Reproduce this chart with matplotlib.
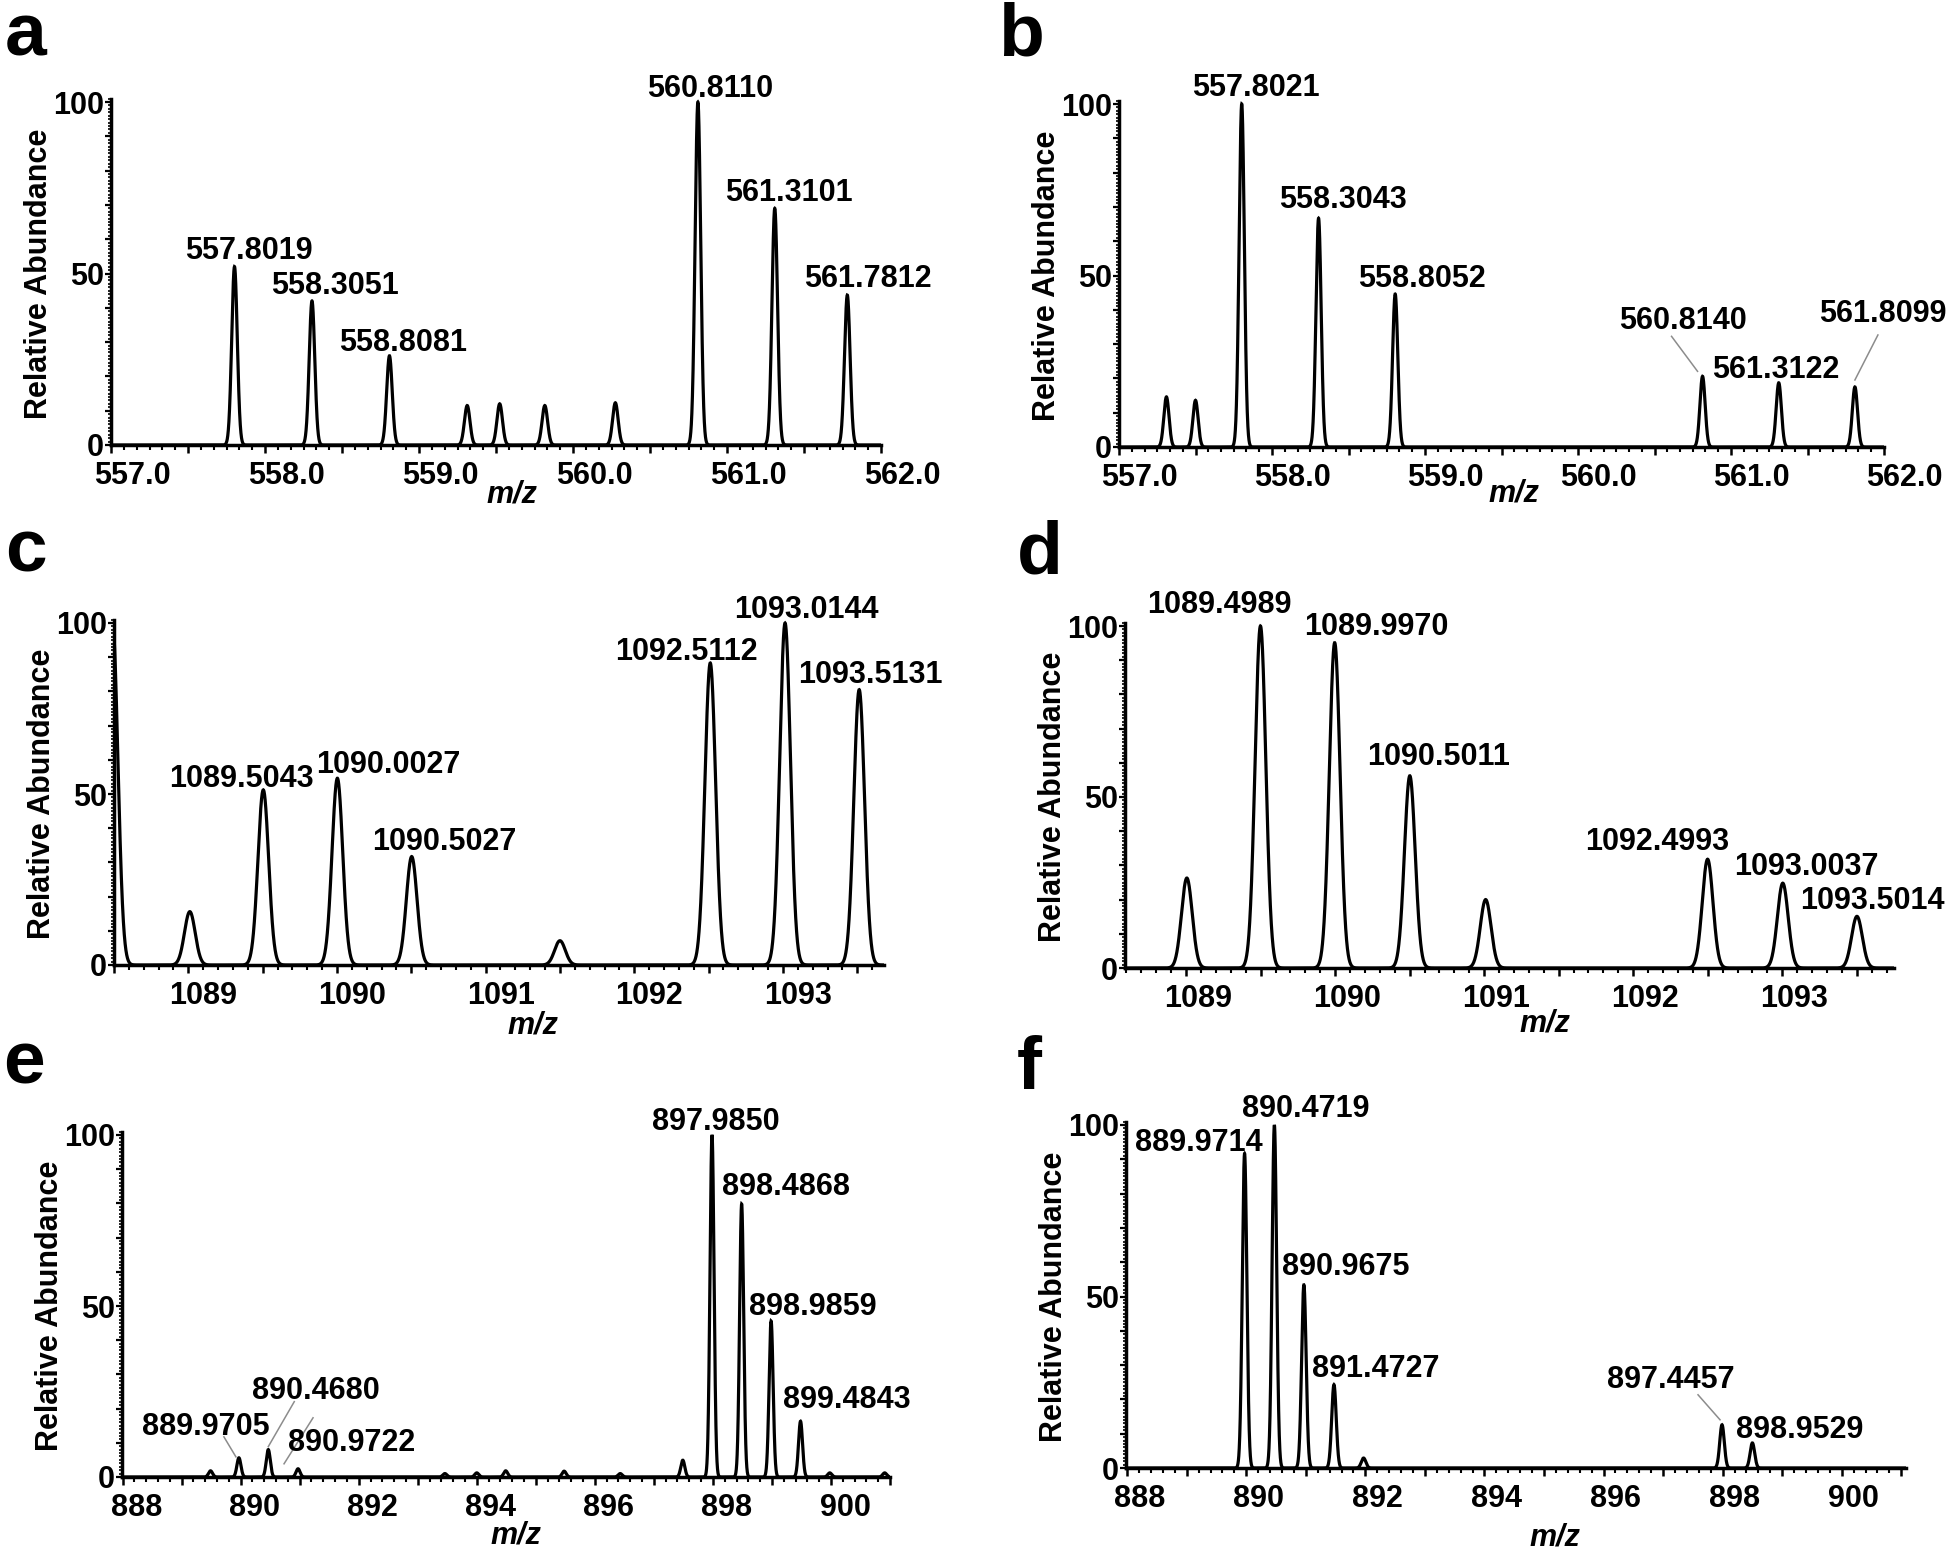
import numpy as np
import matplotlib
matplotlib.use('Agg')
import matplotlib.pyplot as plt
from matplotlib.ticker import MultipleLocator, FuncFormatter
from matplotlib.transforms import ScaledTranslation

plt.rcParams['font.family'] = ['Liberation Sans', 'DejaVu Sans']
plt.rcParams['font.weight'] = 'bold'

# ---------------- data ----------------
a_mz = [557.8019, 558.3051, 558.8081, 559.313, 559.524, 559.817, 560.275, 560.8110, 561.3101, 561.7812]
a_int = [52, 42, 26, 11.5, 12, 11.5, 12.3, 100, 69, 43.7]
a_lab_idx = [0, 1, 2, 7, 8, 9]
a_lab_txt = ['557.8019', '558.3051', '558.8081', '560.8110', '561.3101', '561.7812']

b_mz = [557.31, 557.50, 557.8021, 558.3043, 558.8052, 560.8140, 561.3122, 561.8099]
b_int = [14.6, 13.6, 100, 66.7, 44.6, 20.6, 18.7, 17.5]
b_lab_idx = [2, 3, 4, 5, 6, 7]
b_lab_txt = ['557.8021', '558.3043', '558.8052', '560.8140', '561.3122', '561.8099']

c_mz = [1088.49, 1089.01, 1089.5043, 1090.0027, 1090.5027, 1091.50, 1092.5112, 1093.0144, 1093.5131]
c_int = [100, 15.6, 51.2, 54.6, 31.7, 7.1, 88.3, 100, 80.5]
c_lab_idx = [2, 3, 4, 6, 7, 8]
c_lab_txt = ['1089.5043', '1090.0027', '1090.5027', '1092.5112', '1093.0144', '1093.5131']

d_mz = [1089.005, 1089.4989, 1089.9970, 1090.5011, 1091.01, 1092.4993, 1093.0037, 1093.5014]
d_int = [26.3, 100, 95.1, 56.2, 20, 31.8, 24.8, 15.1]
d_lab_idx = [1, 2, 3, 5, 6, 7]
d_lab_txt = ['1089.4989', '1089.9970', '1090.5011', '1092.4993', '1093.0037', '1093.5014']

e_mz = [889.49, 889.9705, 890.4680, 890.9722, 893.46, 894.00, 894.49, 895.48, 896.43, 897.49,
        897.9850, 898.4868, 898.9859, 899.4843, 899.98, 900.91]
e_int = [1.8, 5.6, 8.0, 2.4, 1.0, 1.2, 1.8, 1.7, 1.0, 4.9, 100, 79.8, 45.6, 16.3, 1.2, 1.2]
e_lab_idx = [1, 2, 3, 10, 11, 12, 13]
e_lab_txt = ['889.9705', '890.4680', '890.9722', '897.9850', '898.4868', '898.9859', '899.4843']

f_mz = [889.9714, 890.4719, 890.9675, 891.4727, 891.97, 897.99, 898.50]
f_int = [91.7, 100, 53.4, 24.3, 2.9, 12.6, 7.3]
f_lab_idx = [0, 1, 2, 3, 5, 6]
f_lab_txt = ['889.9714', '890.4719', '890.9675', '891.4727', '897.4457', '898.9529']

# ---------------- layout / style ----------------
W, H = 1950, 1554
FS = 22

panels = [
    dict(letter='a', mz=a_mz, it=a_int, li=a_lab_idx, lt=a_lab_txt,
         rect=(111, 881, 102, 445), xlim=(557.0, 562.0), xmaj=0.5, xlab=1.0, xmin=1 / 12,
         fmt='{:.1f}', toff=21, sigma=0.018, lpos=(5, 56), mzpos=(512, 495),
         loff=[(14, 8), (23, 7), (14, 5), (12, 5), (14, 7), (21, 8)], leaders=[]),
    dict(letter='b', mz=b_mz, it=b_int, li=b_lab_idx, lt=b_lab_txt,
         rect=(1119, 1884, 104, 447), xlim=(557.0, 562.0), xmaj=0.5, xlab=1.0, xmin=1 / 12,
         fmt='{:.1f}', toff=20, sigma=0.017, lpos=(998, 56), mzpos=(1514, 493),
         loff=[(14, 8), (24, 10), (27, 7), (-20, 47), (-3, 5), (28, 65)],
         leaders=[(5, (-31, 40), (-5, 5)), (7, (23, 52), (0, 7))]),
    dict(letter='c', mz=c_mz, it=c_int, li=c_lab_idx, lt=c_lab_txt,
         rect=(114, 884, 623, 965), xlim=(1088.50, 1093.68), xmaj=0.5, xlab=1.0, xmin=0.1,
         fmt='{:.0f}', toff=15, sigma=0.036, lpos=(5, 571), mzpos=(533, 1025),
         loff=[(-22, 3), (51, 5), (33, 7), (-24, 3), (21, 5), (11, 7)], leaders=[]),
    dict(letter='d', mz=d_mz, it=d_int, li=d_lab_idx, lt=d_lab_txt,
         rect=(1125, 1894, 626, 968), xlim=(1088.59, 1093.75), xmaj=0.5, xlab=1.0, xmin=0.1,
         fmt='{:.0f}', toff=12, sigma=0.036, lpos=(1017, 573), mzpos=(1545, 1024),
         loff=[(-41, 13), (42, 8), (29, 11), (-50, 9), (24, 8), (15, 7)], leaders=[]),
    dict(letter='e', mz=e_mz, it=e_int, li=e_lab_idx, lt=e_lab_txt,
         rect=(122, 890, 1135, 1477), xlim=(887.99, 901.0), xmaj=1.0, xlab=2.0, xmin=0.2,
         fmt='{:.0f}', toff=14, sigma=0.034, lpos=(3, 1083), mzpos=(516, 1535),
         loff=[(-33, 23), (48, 51), (54, 18), (4, 5), (44, 9), (42, 6), (46, 13)],
         leaders=[(1, (-15, 21), (-3, 1)), (2, (26, 48), (0, 3)), (3, (15, 51), (-14, 5))]),
    dict(letter='f', mz=f_mz, it=f_int, li=f_lab_idx, lt=f_lab_txt,
         rect=(1126, 1906, 1125, 1468), xlim=(887.98, 901.08), xmaj=1.0, xlab=2.0, xmin=0.2,
         fmt='{:.0f}', toff=12, sigma=0.038, lpos=(1017, 1089), mzpos=(1555, 1538),
         loff=[(-46, 2), (31, 8), (42, 10), (42, 8), (-51, 37), (47, 5)],
         leaders=[(5, (-24, 30), (-2, 5))]),
]

YTOP = 101.0

fig = plt.figure(figsize=(W / 100, H / 100), dpi=100)

for p in panels:
    l, r, t100, b0 = p['rect']
    hpx = (b0 - t100) * YTOP / 100.0
    ax = fig.add_axes([l / W, (H - b0) / H, (r - l) / W, hpx / H])
    x0, x1 = p['xlim']
    x = np.linspace(x0, x1, 40000)
    y = np.zeros_like(x)
    for m, h in zip(p['mz'], p['it']):
        y += h * np.exp(-0.5 * ((x - m) / p['sigma']) ** 2)
    ax.plot(x, y, color='black', lw=2.3, solid_joinstyle='miter')
    ax.set_xlim(x0, x1)
    ax.set_ylim(0, YTOP)

    for s in ['top', 'right']:
        ax.spines[s].set_visible(False)
    for s in ['left', 'bottom']:
        ax.spines[s].set_linewidth(2.5)
        ax.spines[s].set_color('black')

    xlab = p['xlab']
    fmt = p['fmt']

    def xf(v, pos, xlab=xlab, fmt=fmt):
        k = v / xlab
        return fmt.format(v) if abs(k - round(k)) < 1e-6 else ''

    ax.xaxis.set_major_locator(MultipleLocator(p['xmaj']))
    ax.xaxis.set_minor_locator(MultipleLocator(p['xmin']))
    ax.xaxis.set_major_formatter(FuncFormatter(xf))
    ax.yaxis.set_major_locator(MultipleLocator(10))
    ax.yaxis.set_minor_locator(MultipleLocator(1))
    ax.yaxis.set_major_formatter(FuncFormatter(lambda v, pos: '%d' % v if int(round(v)) in (0, 50, 100) else ''))

    ax.tick_params(axis='x', which='major', direction='out', length=6, width=1.8, pad=5.5,
                   labelsize=FS)
    ax.tick_params(axis='x', which='minor', direction='out', length=3.5, width=1.5)
    ax.tick_params(axis='y', which='major', direction='out', length=4.5, width=1.6, pad=0.5,
                   labelsize=FS)
    ax.tick_params(axis='y', which='minor', direction='out', length=2.5, width=1.2)
    for lab in ax.get_xticklabels() + ax.get_yticklabels():
        lab.set_fontweight('bold')

    # tick labels are drawn shifted to the right in the original
    shift = ScaledTranslation(p['toff'] / 100.0, 0, fig.dpi_scale_trans)
    for tk in ax.xaxis.get_major_ticks():
        tk.label1.set_transform(tk.label1.get_transform() + shift)

    # peak annotations
    for (idx, txt, (dx, dy)) in zip(p['li'], p['lt'], p['loff']):
        ax.annotate(txt, xy=(p['mz'][idx], p['it'][idx]), xytext=(dx, dy),
                    textcoords='offset pixels', ha='center', va='baseline',
                    fontsize=FS, fontweight='bold', annotation_clip=False)

    # leader lines
    xu = (x1 - x0) / (r - l)
    yu = 100.0 / (b0 - t100)
    for idx, (fx, fy), (nx, ny) in p['leaders']:
        mx, hy = p['mz'][idx], p['it'][idx]
        ax.plot([mx + fx * xu, mx + nx * xu], [hy + fy * yu, hy + ny * yu],
                color='#8c8c8c', lw=1.1, clip_on=False)

    # axis titles
    fig.text((l - 72) / W, 1 - ((t100 + b0) / 2) / H, 'Relative Abundance', rotation=90,
             ha='center', va='center', fontsize=FS, fontweight='bold')
    mx_, my_ = p['mzpos']
    fig.text(mx_ / W, 1 - my_ / H, 'm/z', ha='center', va='center', fontsize=FS,
             fontweight='bold', style='italic')
    lx, ly = p['lpos']
    fig.text(lx / W, 1 - ly / H, p['letter'], ha='left', va='baseline', fontsize=54,
             fontweight='bold')

fig.savefig('out.png', dpi=100, facecolor='white')
